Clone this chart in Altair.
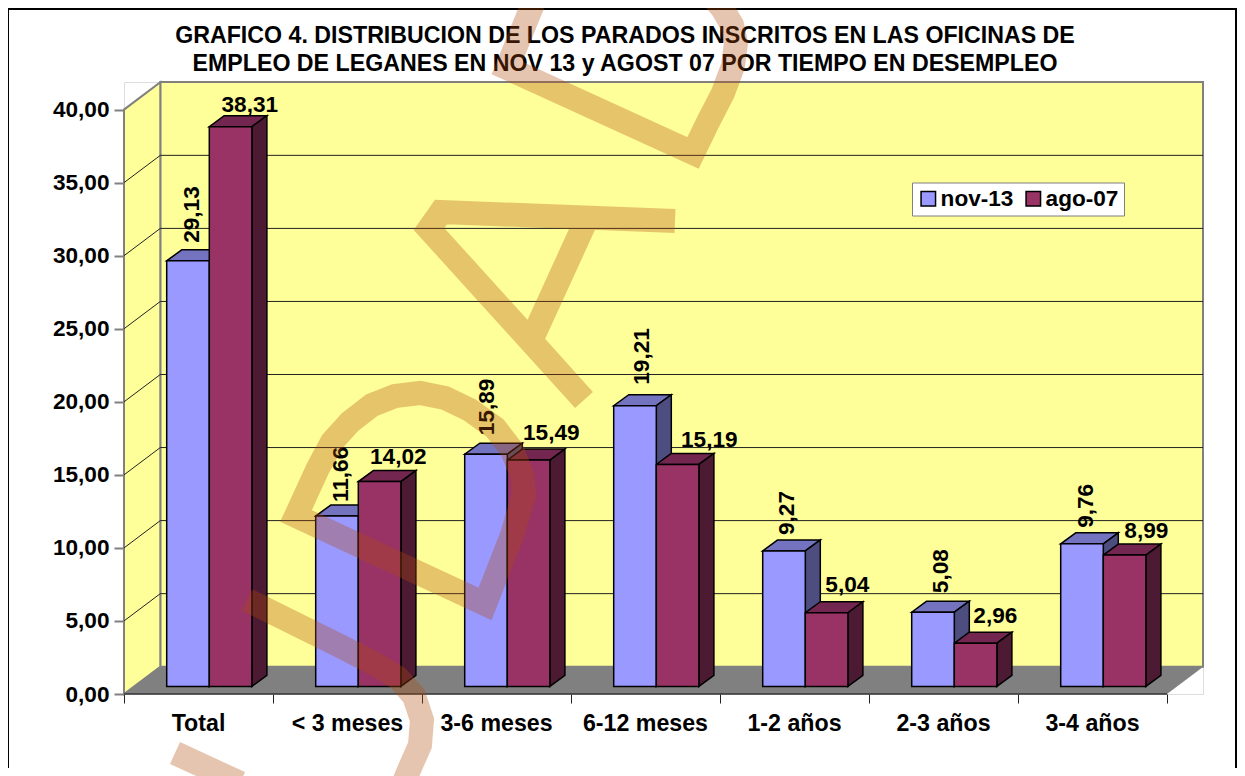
import altair as alt
import pandas as pd

categories = ["Total", "< 3 meses", "3-6 meses", "6-12 meses", "1-2 años", "2-3 años", "3-4 años"]
nov13 = [29.13, 11.66, 15.89, 19.21, 9.27, 5.08, 9.76]
ago07 = [38.31, 14.02, 15.49, 15.19, 5.04, 2.96, 8.99]
series_names = ["nov-13", "ago-07"]
y_ticks = [0, 5, 10, 15, 20, 25, 30, 35, 40]
x_ticks = [0, 1, 2, 3, 4, 5, 6, 7]
title_lines = [
    "GRAFICO 4. DISTRIBUCION DE LOS PARADOS INSCRITOS EN LAS OFICINAS DE",
    "EMPLEO DE LEGANES EN NOV 13 y AGOST 07 POR TIEMPO EN DESEMPLEO",
]

# geometry of the pseudo-3D scene, in axis units
PX_X, PX_Y = 149.0, 14.61
WALL_DX, WALL_DY = 36.3 / PX_X, 27.3 / PX_Y
BAR_DX, BAR_DY = 15.0 / PX_X, 11.0 / PX_Y
BAR_BASE = 0.52
BAR_LEFT, BAR_W = 42.7 / PX_X, 42.6 / PX_X
W, H = 1079, 612
X_DOMAIN = [0, W / PX_X]
Y_DOMAIN = [0, H / PX_Y]
FONT = "Liberation Sans"
LABEL_SIZE = 22.6
CAT_SIZE = 23.2

# data-label offsets from each bar's top-left corner, in pixels
nov_dx = [25, 25, 22, 28, 24, 29, 25]
nov_dy = [18, 14, 19, 21, 16, 19, 16]
ago_dx = [40.5, 40, 44, 53, 42, 41, 43]
ago_dy = [22, 25, 27, 24, 28, 26.7, 24]

# watermark centre lines, page pixels
wm_1 = [(537, -6), (507, 68), (693, 153), (708, 122), (723, 93), (733, 66), (736, 43), (732, 25), (722, 8), (710, -6)]
wm_2 = [(675, 221), (441, 212), (429, 229), (584, 400), (531, 341), (584, 225)]
wm_3 = [(296, 516), (318, 468), (332, 442), (350, 422), (372, 405), (395, 396), (420, 393), (445, 398),
        (470, 410), (495, 428), (512, 450), (522, 475), (524, 495), (512, 535),
        (485, 604), (296, 516), (318, 468)]
wm_4 = [(247, 600), (340, 646), (375, 664), (398, 678), (414, 696), (422, 720), (420, 745), (409, 770), (404, 782)]
wm_5 = [(175, 753), (240, 783)]

xs = alt.Scale(domain=X_DOMAIN, nice=False, zero=False)
ys = alt.Scale(domain=Y_DOMAIN, nice=False, zero=False)
y_axis = alt.Axis(
    values=y_ticks, title=None, domain=False, grid=False, tickColor="#808080", tickSize=10,
    tickWidth=2, labelPadding=5, labelFont=FONT, labelFontSize=LABEL_SIZE, labelFontWeight="bold",
    labelColor="black", labelExpr="replace(format(datum.value, '.2f'), '.', ',')")
x_axis = alt.Axis(
    values=x_ticks, title=None, domain=False, grid=False, labels=False, tickColor="#222222",
    tickSize=9, tickWidth=1)
X = lambda f: alt.X(f, type="quantitative", scale=xs, axis=x_axis)
Y = lambda f: alt.Y(f, type="quantitative", scale=ys, axis=y_axis)

bars, tops, sides = [], [], []
for s, (name, vals) in enumerate(zip(series_names, [nov13, ago07])):
    for c, v in enumerate(vals):
        x0 = c + BAR_LEFT + s * BAR_W
        x1 = x0 + BAR_W
        b = BAR_BASE
        t = BAR_BASE + v
        bars.append(dict(serie=name, cat=c, value=v, x0=x0, x1=x1, b=b, t=t))
        tops.append(dict(id=f"{s}-{c}", s=s, x=x0, x2=x1, y=t))
        tops.append(dict(id=f"{s}-{c}", s=s, x=x0 + BAR_DX, x2=x1 + BAR_DX, y=t + BAR_DY))
        sides.append(dict(id=f"{s}-{c}", s=s, x=x1, y=b, y2=t))
        sides.append(dict(id=f"{s}-{c}", s=s, x=x1 + BAR_DX, y=b + BAR_DY, y2=t + BAR_DY))
bars = pd.DataFrame(bars)
tops = pd.DataFrame(tops)
sides = pd.DataFrame(sides)

STROKE = dict(stroke="black", strokeWidth=1.5)


def top_layer(s, col):
    return alt.Chart(tops[tops.s == s]).mark_area(orient="horizontal", color=col, **STROKE).encode(
        x=X("x"), x2="x2", y=Y("y"), detail="id:N")


def side_layer(s, col):
    return alt.Chart(sides[sides.s == s]).mark_area(color=col, **STROKE).encode(
        x=X("x"), y=Y("y"), y2="y2", detail="id:N")


fronts = alt.Chart(bars).mark_rect(**STROKE).encode(
    x=X("x0"), x2="x1", y=Y("b"), y2="t",
    color=alt.Color("serie:N",
                    scale=alt.Scale(domain=series_names, range=["#9999FF", "#993366"]),
                    legend=alt.Legend(orient="none", legendX=788, legendY=100.5, direction="horizontal",
                                      title=None, fillColor="white", strokeColor="#808080",
                                      symbolType="square", symbolSize=210, symbolStrokeColor="black",
                                      symbolStrokeWidth=1.5, symbolOpacity=1, padding=5,
                                      labelFont=FONT, labelFontSize=LABEL_SIZE, labelFontWeight="bold",
                                      labelColor="black", labelOffset=1, columnPadding=8, labelLimit=200)),
)

# walls and floor
back = pd.DataFrame([dict(x=WALL_DX, x2=X_DOMAIN[1], y=WALL_DY, y2=Y_DOMAIN[1])])
back_wall = alt.Chart(back).mark_rect(fill="#FFFF99", stroke="#808080", strokeWidth=2).encode(
    x=X("x"), x2="x2", y=Y("y"), y2="y2")
left = pd.DataFrame([dict(x=0, y=0, y2=40), dict(x=WALL_DX, y=WALL_DY, y2=40 + WALL_DY)])
left_wall = alt.Chart(left).mark_area(fill="#FFFF99", stroke="#808080", strokeWidth=2).encode(
    x=X("x"), y=Y("y"), y2="y2")
floor = pd.DataFrame([dict(y=0, x=0, x2=7), dict(y=WALL_DY, x=WALL_DX, x2=7 + WALL_DX)])
floor_mark = alt.Chart(floor).mark_area(orient="horizontal", fill="#808080").encode(
    x=X("x"), x2="x2", y=Y("y"))

grid_ticks = [t for t in y_ticks if 0 < t < 40]
grid_back = alt.Chart(pd.DataFrame(dict(y=[t + WALL_DY for t in grid_ticks]))).mark_rule(
    color="#222222", strokeWidth=1).encode(
    y=Y("y"), x=alt.value(WALL_DX * PX_X), x2=alt.value(W))
grid_left = alt.Chart(pd.DataFrame(
    [dict(t=t, x=0, y=t) for t in grid_ticks] + [dict(t=t, x=WALL_DX, y=t + WALL_DY) for t in grid_ticks]
)).mark_line(color="#222222", strokeWidth=1).encode(x=X("x"), y=Y("y"), detail="t:N")

base_line = alt.Chart(pd.DataFrame(dict(x=[0], x2=[7], y=[0]))).mark_rule(color="#333333", strokeWidth=1.5).encode(
    x=X("x"), x2="x2", y=Y("y"))

cat_labels = alt.Chart(pd.DataFrame(dict(x=[c + 0.5 for c in range(7)], y=[-2.05] * 7, t=categories))).mark_text(
    font=FONT, fontSize=CAT_SIZE, fontWeight="bold", color="black", baseline="middle").encode(
    x=X("x"), y=Y("y"), text="t:N")

title_df = pd.DataFrame(dict(x=[(625 - 124) / PX_X] * 2, y=[(694 - 36) / PX_Y, (694 - 64) / PX_Y], t=title_lines))
title_marks = alt.Chart(title_df).mark_text(
    font=FONT, fontSize=23.2, fontWeight="bold", color="black", baseline="middle").encode(
    x=X("x"), y=Y("y"), text="t:N")

lab = bars.copy()
lab["txt"] = lab.value.map(lambda v: f"{v:.2f}".replace(".", ","))
blue = lab[lab.serie == "nov-13"].copy().reset_index(drop=True)
blue["lx"] = blue.x0 + pd.Series(nov_dx) / PX_X
blue["ly"] = blue.t + pd.Series(nov_dy) / PX_Y
red = lab[lab.serie == "ago-07"].copy().reset_index(drop=True)
red["lx"] = red.x0 + pd.Series(ago_dx) / PX_X
red["ly"] = red.t + pd.Series(ago_dy) / PX_Y
blue_labels = alt.Chart(blue).mark_text(font=FONT, fontSize=LABEL_SIZE, fontWeight="bold", color="black",
                                        angle=270, align="left", baseline="middle").encode(
    x=X("lx"), y=Y("ly"), text="txt:N")
red_labels = alt.Chart(red).mark_text(font=FONT, fontSize=LABEL_SIZE, fontWeight="bold", color="black",
                                      baseline="middle").encode(
    x=X("lx"), y=Y("ly"), text="txt:N")

# watermark
rows = []
for i, path in enumerate([wm_1, wm_2, wm_3, wm_4, wm_5]):
    for j, (px, py) in enumerate(path):
        rows.append(dict(id=i, o=j, x=(px - 124) / PX_X, y=(694 - py) / PX_Y))
watermark = alt.Chart(pd.DataFrame(rows)).mark_line(
    color="#B04A08", opacity=0.32, strokeWidth=24, strokeJoin="miter", strokeCap="butt", clip=False).encode(
    x=X("x"), y=Y("y"), detail="id:N", order="o:Q")

# outer frame
frame_l = alt.Chart(pd.DataFrame(dict(a=[0]))).mark_rule(color="black", strokeWidth=2).encode(
    x=alt.value(-116), y=alt.value(-73), y2=alt.value(686))
frame_t = alt.Chart(pd.DataFrame(dict(a=[0]))).mark_rule(color="black", strokeWidth=2).encode(
    x=alt.value(-116), x2=alt.value(1113), y=alt.value(-73))
frame_r = alt.Chart(pd.DataFrame(dict(a=[0]))).mark_rule(color="black", strokeWidth=2).encode(
    x=alt.value(1112), y=alt.value(-73), y2=alt.value(686))

chart = alt.layer(
    frame_l, frame_t, frame_r,
    back_wall, left_wall, grid_back, grid_left, floor_mark, base_line,
    top_layer(0, "#7373BF"), side_layer(0, "#4D4D80"),
    top_layer(1, "#732650"), side_layer(1, "#4D1A33"),
    fronts, blue_labels, red_labels, cat_labels, title_marks, watermark,
).properties(
    width=W, height=H,
    autosize=alt.AutoSizeParams(type="none"),
    padding={"left": 116, "top": 74, "right": 34, "bottom": 82},
).configure_view(stroke=None).configure(background="white")

chart.save("out.html", embed_options={"renderer": "svg", "actions": False})
